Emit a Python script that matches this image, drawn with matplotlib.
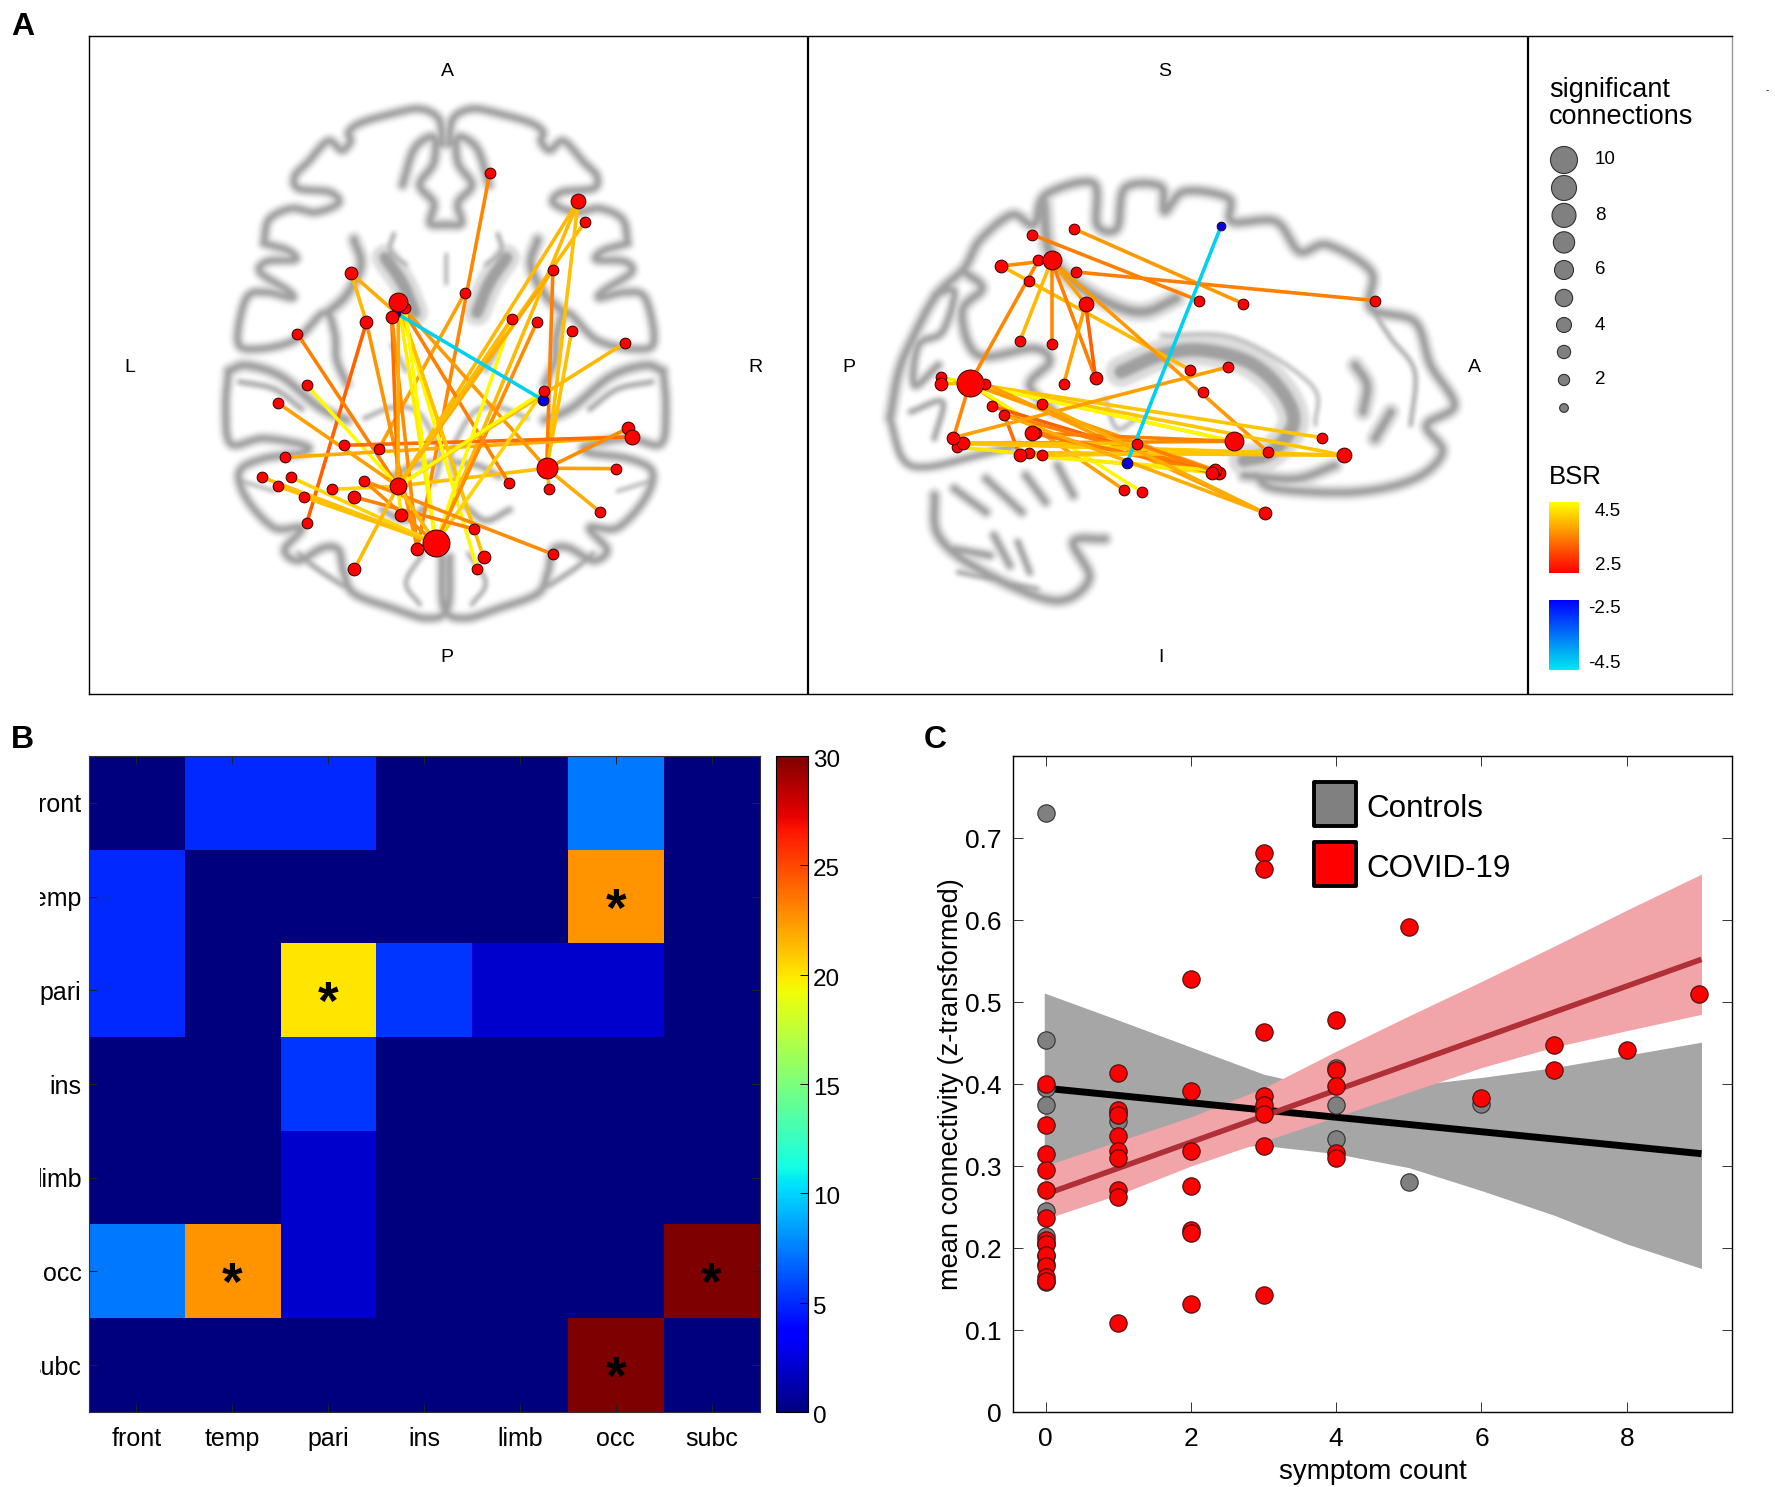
import numpy as np
import matplotlib
matplotlib.use('Agg')
import matplotlib.pyplot as plt
from matplotlib.figure import Figure
from matplotlib.backends.backend_agg import FigureCanvasAgg
from matplotlib.colors import LinearSegmentedColormap
from matplotlib.patches import Rectangle
from matplotlib.transforms import Bbox, ScaledTranslation

plt.rcParams['font.family'] = ['Liberation Sans', 'DejaVu Sans']
W, H = 1775, 1487
DPI = 100

# ---------- panel A data (traced positions in crop units) ----------
ax_nodes_x = [842,1097,1117,1024,442,769,578,597,559,572,486,905,978,1078,287,1233,314,231,997,996,1241,1253,422,522,250,1006,1206,186,269,478,577,231,387,897,1014,451,305,1160,586,314,797,686,633,824,1024,451,806]
ax_nodes_y = [255,333,389,522,531,586,610,627,651,640,665,656,664,689,697,721,838,887,855,879,956,980,1003,1012,1036,1066,1067,1091,1091,1100,1115,1115,1124,1107,1124,1145,1145,1186,1193,1216,1233,1272,1288,1311,1302,1343,1343]
ax_nodes_n = [2,4,2,2,3,2,6,2,3,1,3,2,2,2,2,2,2,2,2,2,3,4,2,2,2,7,2,2,2,2,5,2,2,2,2,3,2,2,3,2,2,10,3,3,2,3,2]
ax_nodes_blue = [9,19]
ax_edges = [(0,42,3.55),(5,23,3.75),(1,30,3.95),(1,41,3.95),(2,30,3.95),(1,25,4.0),(3,25,3.5),(13,25,4.0),(4,10,3.95),(4,9,3.85),
            (10,42,3.65),(10,39,3.26),(14,30,3.5),(16,30,4.45),(17,30,3.75),(24,21,3.85),(22,21,3.35),(25,20,3.6),(25,26,3.75),(25,37,3.85),
            (25,34,4.0),(25,30,4.0),(6,25,3.7),(6,33,3.5),(8,30,3.35),(8,42,3.6),(6,30,3.85),(6,46,4.45),(6,40,4.3),(6,41,4.35),
            (6,43,4.0),(7,41,4.45),(11,41,4.45),(12,41,3.6),(3,30,3.85),(15,30,3.95),(18,30,4.45),(18,41,4.15),(11,30,3.95),(27,41,4.0),
            (31,41,4.0),(28,41,4.15),(36,41,4.0),(32,30,4.15),(29,41,3.6),(35,40,3.5),(29,44,3.6),(38,30,4.3),(45,30,3.95),(30,41,3.95),(9,19,-4.3)]

sg_nodes_x = [912,541,436,485,452,359,547,429,571,857,968,1301,405,485,833,930,596,206,206,279,318,516,866,460,335,366,238,262,248,437,447,944,1166,700,405,429,460,1031,1222,675,889,898,906,668,714,1023]
sg_nodes_y = [202,209,227,304,304,321,339,366,435,425,434,425,547,555,632,624,657,655,674,673,674,674,700,734,742,768,836,853,864,822,822,847,836,854,889,881,889,880,889,913,941,934,941,993,1000,1062]
sg_nodes_n = [1,2,2,6,2,3,2,2,4,2,2,2,2,2,2,2,3,2,3,10,2,2,2,2,2,2,3,3,2,4,2,6,2,2,3,2,2,2,4,2,3,3,3,2,2,3]
sg_nodes_blue = [0,39]
sg_edges = [(1,10,3.7),(2,9,3.5),(6,11,3.5),(5,3,3.6),(5,14,3.95),(3,12,3.95),(3,13,3.6),(3,8,3.75),(3,16,3.5),(8,16,3.26),
            (8,21,3.75),(3,37,3.7),(4,19,3.55),(19,26,3.55),(19,31,4.15),(19,32,4.05),(19,38,4.05),(19,31,4.45),(19,41,3.75),(19,40,4.15),
            (19,33,3.7),(19,43,3.75),(19,44,4.45),(17,19,4.35),(18,19,4.0),(20,45,3.75),(24,40,3.26),(25,34,3.35),(25,42,3.5),(26,15,3.75),
            (27,31,3.6),(27,37,4.15),(28,40,4.3),(27,38,4.05),(27,33,4.0),(29,42,3.35),(29,31,3.5),(30,40,3.5),(34,39,4.35),(35,38,4.0),
            (36,37,4.05),(39,41,4.3),(23,45,3.85),(33,42,3.5),(25,45,3.85),(0,39,-4.3)]

legend_counts = [10,9,8,7,6,5,4,3,2,1]
legend_diam = [27,25,24,21.3,19,17.3,15,13.3,11.3,8.7]
legend_labels = ['10','','8','','6','','4','','2','']

# ---------- brain backdrop strokes (traced in crop units) ----------
ax_left_strokes = [
 ([(705,180),(695,110),(640,82),(560,95),(470,120),(435,145),(440,170),(415,195),(375,170),(320,225),(280,265),(290,300),(380,310),(405,340),(340,365),(270,355),(205,385),(190,450)],17),
 ([(190,450),(260,470),(280,495),(200,500),(180,530),(260,580),(270,600),(200,585),(140,600),(115,720),(170,740),(280,715),(365,640),(395,700),(400,770),(430,835)],17),
 ([(450,440),(470,510),(430,590),(375,640)],20),
 ([(88,800),(140,785),(240,815),(350,900),(430,935)],19),
 ([(120,830),(220,850),(300,905)],10),
 ([(88,800),(80,900),(95,1000),(190,985),(310,1005),(300,1025),(190,1040),(120,1075),(140,1150),(220,1230),(300,1230),(250,1290),(290,1320),(360,1285),(405,1290),(420,1350),(450,1410),(560,1450),(660,1478),(720,1450),(726,1310)],17),
 ([(590,290),(625,190),(680,160),(680,230),(640,290),(680,340),(670,395),(715,400)],18),
 ([(540,490),(590,560),(625,640)],34),
 ([(565,425),(555,470),(600,510)],8),
 ([(480,930),(560,900),(630,910),(680,980),(700,1040),(680,1110)],8),
 ([(290,1300),(340,1340),(420,1390)],10),
 ([(560,1090),(620,1060),(690,1050)],12),
 ([(530,1180),(600,1210),(660,1170)],12),
 ([(120,1100),(220,1130)],6),
 ([(715,480),(715,560)],6),
 ([(560,730),(600,800)],8),
 ([(650,1300),(600,1380),(640,1440)],8),
]
sg_strokes = [
 ([(78,780),(100,640),(135,540),(195,410),(265,330),(305,245),(385,170),(440,200),(470,110),(590,75),(600,200),(650,210),(670,90),(760,85),(770,160),(820,100),(930,120),(940,190),(1050,190),(1110,280),(1180,260),(1290,340),(1290,450),(1400,490),(1440,620),(1500,740),(1430,800),(1470,880),(1400,960),(1250,1000),(1050,990),(1000,950)],17),
 ([(78,780),(110,900),(170,925),(300,890),(400,860)],14),
 ([(465,130),(480,280),(540,370),(640,440),(720,460),(800,420)],22),
 ([(265,340),(310,390),(260,460),(300,590),(440,570),(480,610),(430,680),(490,760)],17),
 ([(190,410),(240,400),(210,520),(150,560),(140,680),(200,620)],14),
 ([(660,640),(760,590),(860,575),(980,610),(1060,690),(1095,790),(1040,880),(970,905)],34),
 ([(760,530),(950,540),(1140,680),(1150,800)],5),
 ([(190,1010),(200,1130),(300,1230),(490,1325),(580,1260),(540,1150),(620,1140)],17),
 ([(240,990),(320,1060)],15),([(320,960),(410,1060)],15),([(420,950),(470,1030)],15),([(500,920),(540,1010)],15),
 ([(240,1170),(330,1190)],14),([(340,1130),(380,1220)],14),([(400,1150),(430,1240)],12),([(250,1240),(450,1290)],8),
 ([(1250,620),(1280,680),(1270,760)],20),([(1300,840),(1340,760)],20),
 ([(970,950),(1100,960),(1200,920)],18),
 ([(620,720),(650,810),(700,780)],6),
 ([(130,760),(210,730),(190,840)],10),
 ([(1290,450),(1340,540),(1400,640),(1390,800)],7),
]

# ---------- panel B data ----------
regions = ['front','temp','pari','ins','limb','occ','subc']
count_matrix = np.array([[0,5,5,0,0,7.3,0],
                         [5,0,0,0,0,22.5,0],
                         [5,0,20,5.3,2,2,0],
                         [0,0,5.3,0,0,0,0],
                         [0,0,2,0,0,0,0],
                         [7.3,22.5,2,0,0,0,30],
                         [0,0,0,0,0,30,0]])
star_rows = [1,2,5,5,6]
star_cols = [5,2,1,6,5]

# ---------- panel C data ----------
covid_x = [0]*12 + [1]*9 + [2]*7 + [3]*8 + [4]*5 + [5,6,7,7,8,9]
covid_y = [0.40,0.35,0.315,0.295,0.271,0.237,0.21,0.205,0.192,0.178,0.165,0.16,
           0.413,0.368,0.362,0.337,0.318,0.31,0.271,0.262,0.108,
           0.528,0.392,0.318,0.276,0.222,0.218,0.132,
           0.682,0.662,0.463,0.385,0.375,0.363,0.325,0.143,
           0.478,0.417,0.398,0.316,0.31,
           0.591,0.383,0.447,0.417,0.442,0.51]
ctrl_x = [0]*10 + [1,1,3,4,4,4,5,6]
ctrl_y = [0.731,0.454,0.395,0.374,0.245,0.215,0.205,0.19,0.18,0.158,0.355,0.365,0.37,0.42,0.375,0.333,0.28,0.376]
fit_x = [-0.02,9.03]
ctrl_fit = [0.395,0.315]
covid_fit = [0.265,0.552]
band_ctrl_x = [-0.02,1,2,3,4,5,6,7,8,9.03]
band_ctrl_hi = [0.511,0.478,0.445,0.412,0.392,0.398,0.408,0.42,0.435,0.451]
band_ctrl_lo = [0.30,0.315,0.322,0.325,0.315,0.298,0.27,0.24,0.205,0.175]
band_cov_x = [-0.02,1,2,3,4,5,6,7,8,9.03]
band_cov_hi = [0.30,0.33,0.36,0.395,0.44,0.483,0.525,0.568,0.612,0.656]
band_cov_lo = [0.235,0.265,0.30,0.33,0.36,0.39,0.42,0.445,0.465,0.485]
x_ticks = [0,2,4,6,8]
y_ticks = [0,0.1,0.2,0.3,0.4,0.5,0.6,0.7]

# ---------- helpers ----------
fig = plt.figure(figsize=(W/DPI, H/DPI), dpi=DPI, facecolor='white')

def add_px(x0, y0, x1, y1, **kw):
    return fig.add_axes([x0/W, 1-y1/H, (x1-x0)/W, (y1-y0)/H], **kw)

def fig_text(x, y, s, **kw):
    kw.setdefault('va', 'center')
    return fig.text(x/W, 1-y/H, s, **kw)

def smooth(pts, n=14):
    p = np.array(pts, float)
    if len(p) < 3:
        return p
    p = np.vstack([2*p[0]-p[1], p, 2*p[-1]-p[-2]])
    out = []
    for i in range(1, len(p)-2):
        for t in np.linspace(0, 1, n, endpoint=False):
            out.append(0.5*((2*p[i]) + (p[i+1]-p[i-1])*t + (2*p[i-1]-5*p[i]+4*p[i+1]-p[i+2])*t*t + (3*p[i]-p[i-1]-3*p[i+1]+p[i+2])*t**3))
    out.append(p[-2])
    return np.array(out)

def box_blur(a, r):
    k = np.ones(2*r+1)/(2*r+1)
    a = np.apply_along_axis(lambda v: np.convolve(np.pad(v,r,mode='edge'),k,'valid'),0,a)
    a = np.apply_along_axis(lambda v: np.convolve(np.pad(v,r,mode='edge'),k,'valid'),1,a)
    return a

def backdrop(strokes, mirror, pw, ph, xmax, ymax):
    f = Figure(figsize=(pw/DPI, ph/DPI), dpi=DPI, facecolor='white')
    FigureCanvasAgg(f)
    a = f.add_axes([0,0,1,1]); a.set_xlim(0,xmax); a.set_ylim(ymax,0); a.axis('off')
    sx = pw/xmax
    for color, factor in [('#dcdcdc',2.3),('#a0a0a0',1.0)]:
        for pts, w in strokes:
            c = smooth(pts)
            for xs in ([c[:,0]] if mirror is None else [c[:,0], 2*mirror-c[:,0]]):
                a.plot(xs, c[:,1], color=color, lw=w*factor*sx*0.72, solid_capstyle='round', solid_joinstyle='round')
    f.canvas.draw()
    img = np.asarray(f.canvas.buffer_rgba())[:,:,0].astype(float)
    return box_blur(box_blur(img, 2), 2)

bsr_pos = LinearSegmentedColormap.from_list('p', ['#ff0000','#ffff00'])
bsr_neg = LinearSegmentedColormap.from_list('n', ['#0000ff','#00e8f0'])
def bsr_color(v):
    t = (abs(v)-2.5)/2.0
    return bsr_pos(t) if v > 0 else bsr_neg(t)

def brain_panel(box, xmax, ymax, strokes, mirror, nx, ny, nn, blue, edges):
    x0,y0,x1,y1 = box
    a = add_px(x0,y0,x1,y1)
    a.patch.set_alpha(0)
    img = backdrop(strokes, mirror, int(x1-x0), int(y1-y0), xmax, ymax)
    a.imshow(img, cmap='gray', vmin=0, vmax=255, extent=[0,xmax,ymax,0], aspect='auto', interpolation='bilinear', zorder=0)
    for i,j,v in edges:
        a.plot([nx[i],nx[j]],[ny[i],ny[j]],color=bsr_color(v),lw=2.6,solid_capstyle='round',zorder=1)
    for k in np.argsort(nn):
        col = '#0000e0' if k in blue else '#ff0000'
        d = (8.7+(nn[k]-1)*2.03)*0.72
        a.plot(nx[k],ny[k],'o',ms=d,mfc=col,mec='#300000',mew=0.7,zorder=2)
    a.set_xlim(0,xmax); a.set_ylim(ymax,0); a.axis('off')
    return a

# ---------- panel A ----------
brain_panel((198,80,738,650),1558,1565,ax_left_strokes,715,ax_nodes_x,ax_nodes_y,ax_nodes_n,ax_nodes_blue,ax_edges)
brain_panel((859,159,1479,629),1562,1410,sg_strokes,None,sg_nodes_x,sg_nodes_y,sg_nodes_n,sg_nodes_blue,sg_edges)

frame = add_px(89,36,1732,693.5)
frame.patch.set_alpha(0); frame.set_xticks([]); frame.set_yticks([])
for s,c,l in [('left','k',1.0),('top','k',1.0),('bottom','k',1.0),('right','#999999',1.0)]:
    frame.spines[s].set_color(c); frame.spines[s].set_linewidth(l)
frame.axvline(808.3,color='k',lw=1.6); frame.axvline(1527.5,color='k',lw=1.6)

for x,y,s in [(447,71,'A'),(130,367,'L'),(755,367,'R'),(447,657,'P'),(1165,71,'S'),(849,367,'P'),(1474,367,'A'),(1161,657,'I')]:
    fig_text(x,y,s,ha='center',fontsize=14)

fig_text(1549,90,'significant',fontsize=19.5,ha='left')
fig_text(1549,117,'connections',fontsize=19.5,ha='left')
leg_y = [160,188,215.4,242.4,270,298,325,352,380,408]
frame.scatter([1564]*len(legend_counts),leg_y,s=[(d*0.72)**2 for d in legend_diam],c='#808080',edgecolors='#303030',linewidths=0.8,zorder=3)
for y,t in zip(leg_y,legend_labels):
    if t:
        fig_text(1595,y,t,fontsize=13.5,ha='left')
fig_text(1549,477,'BSR',fontsize=18.5,ha='left')
grad = np.linspace(0,1,128)[:,None]
frame.imshow(grad,cmap=bsr_pos,extent=[1549,1579,573,502],aspect='auto',origin='lower',zorder=2)
frame.imshow(grad,cmap=bsr_neg,extent=[1549,1579,669.5,599.5],aspect='auto',origin='upper',zorder=2)
frame.set_xlim(89,1732); frame.set_ylim(693.5,36)
for x,y,s in [(1595,511,'4.5'),(1595,565,'2.5'),(1588,609,'-2.5'),(1588,664,'-4.5')]:
    fig_text(x,y,s,fontsize=13.5,ha='left')
fig_text(1766,90,'-',fontsize=7,ha='left')

for x,y,s in [(11,27,'A'),(11,740,'B'),(924,740,'C')]:
    fig_text(x,y,s,fontsize=23,fontweight='bold',ha='left')

# ---------- panel B ----------
hm = add_px(88.5,756,759.5,1412)
im = hm.imshow(count_matrix,cmap='jet',vmin=0,vmax=30,aspect='auto',interpolation='nearest')
hm.set_xticks(range(7)); hm.set_xticklabels(regions,fontsize=18)
hm.set_yticks(range(7)); hm.set_yticklabels(regions,fontsize=18)
hm.tick_params(axis='x',direction='in',length=6,width=0.7,color='#222222',pad=10.5,top=True)
hm.tick_params(axis='y',direction='in',length=6,width=0.7,color='#222222',pad=5,right=True)
for s in hm.spines.values():
    s.set_linewidth(0.8); s.set_color('#333333')
clip = Bbox([[40,0],[88,H]])
for t in hm.get_yticklabels():
    t.set_clip_box(clip); t.set_clip_on(True)
for r,c in zip(star_rows,star_cols):
    hm.text(c,r+0.16,'*',fontsize=38,fontweight='bold',ha='center',va='center',color='k')

cb_ax = add_px(776,756,807.5,1412)
cb = fig.colorbar(im,cax=cb_ax)
cb.set_ticks([0,5,10,15,20,25,30])
cb.ax.tick_params(labelsize=17.5,direction='in',length=6,width=0.7,pad=4)
cb.outline.set_linewidth(0.8)
down = ScaledTranslation(0,-2.5/DPI,fig.dpi_scale_trans)
for t in cb.ax.get_yticklabels():
    t.set_transform(t.get_transform()+down)

# ---------- panel C ----------
ax = add_px(1013,756,1732,1412)
ax.fill_between(band_ctrl_x,band_ctrl_lo,band_ctrl_hi,color='#a6a6a6',lw=0,zorder=1)
ax.fill_between(band_cov_x,band_cov_lo,band_cov_hi,color='#f2a5a8',lw=0,zorder=2)
ax.plot(fit_x,ctrl_fit,color='k',lw=5,solid_capstyle='butt',zorder=3)
ax.plot(fit_x,covid_fit,color='#b03038',lw=4,solid_capstyle='butt',zorder=4)
ax.scatter(ctrl_x,ctrl_y,s=156,c='#808080',edgecolors='#303030',linewidths=0.8,zorder=5)
ax.scatter(covid_x,covid_y,s=156,c='#ff0000',edgecolors='#401010',linewidths=0.8,zorder=6)
ax.set_xlim(-0.45,9.45); ax.set_ylim(0,0.8)
ax.set_xticks(x_ticks); ax.set_yticks(y_ticks)
ax.set_yticklabels(['0','0.1','0.2','0.3','0.4','0.5','0.6','0.7'])
ax.tick_params(axis='both',direction='in',length=7,width=0.7,labelsize=19,top=True,right=True,color='#333333')
ax.tick_params(axis='x',pad=10.5); ax.tick_params(axis='y',pad=8)
ax.set_xlabel('symptom count',fontsize=20,labelpad=6)
ax.set_ylabel('mean connectivity (z-transformed)',fontsize=19.6,labelpad=1)
for s in ax.spines.values():
    s.set_linewidth(1.0)
for y0,col,name in [(0.715,'#808080','Controls'),(0.642,'#ff0000','COVID-19')]:
    ax.add_patch(Rectangle((3.69,y0),0.58,0.053,fc=col,ec='k',lw=2.8,joinstyle='round',zorder=7))
    ax.text(4.41,y0+0.0205,name,fontsize=22.6,ha='left',va='center',zorder=7)

fig.savefig('out.png',dpi=DPI,facecolor='white')
